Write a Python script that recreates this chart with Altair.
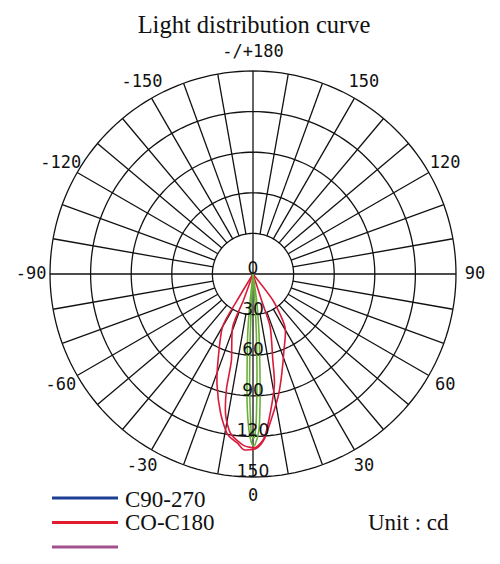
import altair as alt
import numpy as np
import pandas as pd

# ---- data (angle in degrees, 0 = down, + = right; intensity in cd)
red_outer_angle = [-31, -31, -30, -22, -18, -13, -9, -5, -3, 1, 4, 8, 12, 16, 22, 31, 37, 37]
red_outer_cd    = [0, 23, 45, 69, 86, 106, 120, 126, 130, 129, 122, 105, 91, 77, 61, 46, 25, 0]

red_inner_angle = [-20, -20, -21, -14, -13, -11, -8, -3, 1, 4, 7, 11, 13, 18, 18, 18]
red_inner_cd    = [0, 21, 42, 66, 87, 106, 119, 127, 128, 121, 104, 83, 65, 41, 21, 0]

green_a_angle = [-6, -6, -5, -3.4, -2.6, -1.5, -0.3, 0.7, 2.2, 3.1, 4.0, 5.7, 7.6, 7.6]
green_a_cd    = [0, 22, 45, 74, 96, 115, 126, 126, 115, 96, 74, 45, 22, 0]

green_b_angle = [-3, -3, -2.5, -1.8, -1.2, -0.6, 0.4, 1.2, 1.8, 2.4, 3.2, 4.0, 4.0]
green_b_cd    = [0, 25, 50, 80, 100, 118, 121, 110, 90, 70, 45, 22, 0]

ring_values = [30, 60, 90, 120, 150]
angle_ticks = [-150, -120, -90, -60, -30, 0, 30, 60, 90, 120, 150, 180]
angle_tick_labels = ["-150", "-120", "-90", "-60", "-30", "0", "30", "60", "90", "120", "150", "-/+180"]
ring_labels = ["0", "30", "60", "90", "120", "150"]
ring_label_values = [0, 30, 60, 90, 120, 150]

legend_labels = ["C90-270", "CO-C180", ""]
legend_colors = ["#1d3f93", "#e01b2d", "#a3508f"]

title_text = "Light distribution curve"
unit_text = "Unit : cd"

# ---- helpers
def to_xy(angles, vals):
    a = np.radians(np.array(angles, dtype=float))
    v = np.array(vals, dtype=float)
    return v * np.sin(a), -v * np.cos(a)

curves = []
for name, ang, val in [("red_outer", red_outer_angle, red_outer_cd),
                       ("red_inner", red_inner_angle, red_inner_cd),
                       ("green_a", green_a_angle, green_a_cd),
                       ("green_b", green_b_angle, green_b_cd)]:
    x, y = to_xy(ang, val)
    for i in range(len(x)):
        curves.append({"series": name, "i": i, "x": x[i], "y": y[i]})
curves = pd.DataFrame(curves)

# rings
ring_rows = []
t = np.arange(0, 361, 2)
for r in ring_values:
    for k, deg in enumerate(t):
        ring_rows.append({"ring": r, "i": k, "x": r * np.sin(np.radians(deg)), "y": r * np.cos(np.radians(deg))})
rings = pd.DataFrame(ring_rows)

# spokes every 10 degrees
spoke_rows = []
for deg in range(0, 360, 10):
    rad = np.radians(deg)
    r0 = 0 if deg % 90 == 0 else ring_values[0]
    r1 = ring_values[-1]
    spoke_rows.append({"x": r0 * np.sin(rad), "y": r0 * np.cos(rad),
                       "x2": r1 * np.sin(rad), "y2": r1 * np.cos(rad)})
spokes = pd.DataFrame(spoke_rows)

# angle labels
lab_r = 164
alab = pd.DataFrame({
    "label": angle_tick_labels,
    "x": [lab_r * np.sin(np.radians(a)) for a in angle_ticks],
    "y": [-lab_r * np.cos(np.radians(a)) for a in angle_ticks],
})

rlab = pd.DataFrame({"label": ring_labels, "x": [0.0] * len(ring_labels),
                     "y": [-float(v) for v in ring_label_values]})

px_per_cd = 203 / 150
cx, cy = 245, 266
W, H = 484, 548
xs = alt.Scale(domain=[-cx / px_per_cd, (W - cx) / px_per_cd], nice=False, zero=False)
ys = alt.Scale(domain=[-(H - cy) / px_per_cd, cy / px_per_cd], nice=False, zero=False)
X = lambda f: alt.X(f, type="quantitative", scale=xs, axis=None)
Y = lambda f: alt.Y(f, type="quantitative", scale=ys, axis=None)

ring_layer = alt.Chart(rings).mark_line(color="#111111", strokeWidth=1.3).encode(
    x=X("x"), y=Y("y"), detail="ring:N", order="i:Q")

spoke_layer = alt.Chart(spokes).mark_rule(color="#111111", strokeWidth=1.3).encode(
    x=X("x"), y=Y("y"), x2="x2", y2="y2")

curve_layer = alt.Chart(curves).mark_line(strokeWidth=1.6, interpolate="cardinal", tension=0.3).encode(
    x=X("x"), y=Y("y"), detail="series:N", order="i:Q",
    color=alt.Color("series:N", legend=None,
                    scale=alt.Scale(domain=["red_outer", "red_inner", "green_a", "green_b"],
                                    range=["#d81b3a", "#d81b3a", "#6cae3c", "#6cae3c"])))

alab_layer = alt.Chart(alab).mark_text(font="DejaVu Sans Mono", fontSize=17, color="#111111",
                                       align="center", baseline="middle").encode(
    x=X("x"), y=Y("y"), text="label:N")

rlab_layer = alt.Chart(rlab).mark_text(font="DejaVu Sans", fontSize=17, color="#111111",
                                       align="center", baseline="alphabetic").encode(
    x=X("x"), y=Y("y"), text="label:N")

title_layer = alt.Chart(pd.DataFrame({"t": [title_text]})).mark_text(
    font="Liberation Serif", fontSize=24.5, color="#111111", align="center", baseline="alphabetic").encode(
    x=alt.value(246), y=alt.value(25), text="t:N")

leg = pd.DataFrame({"label": legend_labels, "color": legend_colors, "k": [0, 1, 2]})
leg_lines = alt.Chart(leg).mark_rule(strokeWidth=3).encode(
    x=alt.value(44), x2=alt.value(110),
    y=alt.Y("k:Q", scale=alt.Scale(domain=[0, 2], range=[490, 539]), axis=None),
    color=alt.Color("color:N", scale=None))
leg_text = alt.Chart(leg).mark_text(font="Liberation Serif", fontSize=23, color="#111111",
                                    align="left", baseline="alphabetic").encode(
    x=alt.value(117),
    y=alt.Y("k:Q", scale=alt.Scale(domain=[0, 2], range=[499, 545]), axis=None),
    text="label:N")

unit_layer = alt.Chart(pd.DataFrame({"t": [unit_text]})).mark_text(
    font="Liberation Serif", fontSize=23, color="#111111", align="left", baseline="alphabetic").encode(
    x=alt.value(360), y=alt.value(522), text="t:N")

chart = alt.layer(ring_layer, spoke_layer, curve_layer, rlab_layer, alab_layer,
                  title_layer, leg_lines, leg_text, unit_layer).resolve_scale(
    y="independent", color="independent").properties(
    width=W, height=H, autosize=alt.AutoSizeParams(type="none"), padding=0
).configure_view(stroke=None)

chart.save("out.html", embed_options={"renderer": "svg", "actions": False})
